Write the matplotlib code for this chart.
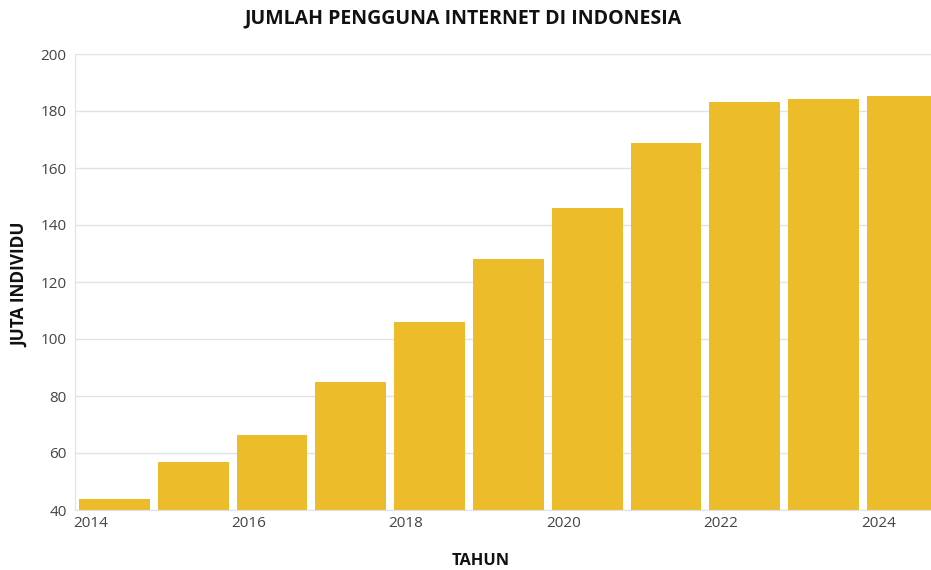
import matplotlib
matplotlib.use("Agg")
import matplotlib.pyplot as plt

years = [2014, 2015, 2016, 2017, 2018, 2019, 2020, 2021, 2022, 2023, 2024]
users = [43.8, 56.8, 66.2, 85.0, 106.0, 128.0, 146.0, 168.9, 183.0, 184.1, 185.2]
tick_years = [2014, 2016, 2018, 2020, 2022, 2024]
y_ticks = [40, 60, 80, 100, 120, 140, 160, 180, 200]

plt.rcParams['font.family'] = ['Open Sans', 'DejaVu Sans']

W, H = 931, 570
fig = plt.figure(figsize=(W / 100, H / 100), dpi=100)
left, right, top, bottom = 75, 931, 54, 510
ax = fig.add_axes([left / W, (H - bottom) / H, (right - left) / W, (bottom - top) / H])

pos = [y - years[0] for y in years]
ax.bar([p + 0.05 for p in pos], users, width=0.9, align='edge',
       bottom=0, color='#ECBC2A', zorder=2, clip_on=True)

ax.set_ylim(40, 200)
ax.set_xlim(0, (right - left) / 78.8)
ax.set_yticks(y_ticks)
ax.set_xticks([y - years[0] + 0.2 for y in tick_years])
ax.set_xticklabels([str(y) for y in tick_years])
ax.tick_params(axis='both', length=0, labelsize=11, colors='#444444')
ax.tick_params(axis='x', pad=4)
ax.tick_params(axis='y', pad=6)
ax.grid(axis='y', color='#e2e2e2', linewidth=1, zorder=0)
for s in ['top', 'right']:
    ax.spines[s].set_visible(False)
ax.spines['left'].set_color('#e2e2e2')
ax.spines['bottom'].set_color('#e2e2e2')

fig.text(463 / W, 1 - 18 / H, 'JUMLAH PENGGUNA INTERNET DI INDONESIA',
         ha='center', va='center', fontsize=14, fontweight='bold', color='#111111')
fig.text(481 / W, 1 - 561 / H, 'TAHUN', ha='center', va='center',
         fontsize=11.8, fontweight='bold', color='#111111')
fig.text(20 / W, 1 - 285 / H, 'JUTA INDIVIDU', ha='center', va='center',
         rotation=90, fontsize=12.4, fontweight='bold', color='#111111')

fig.savefig('out.png', dpi=100)
